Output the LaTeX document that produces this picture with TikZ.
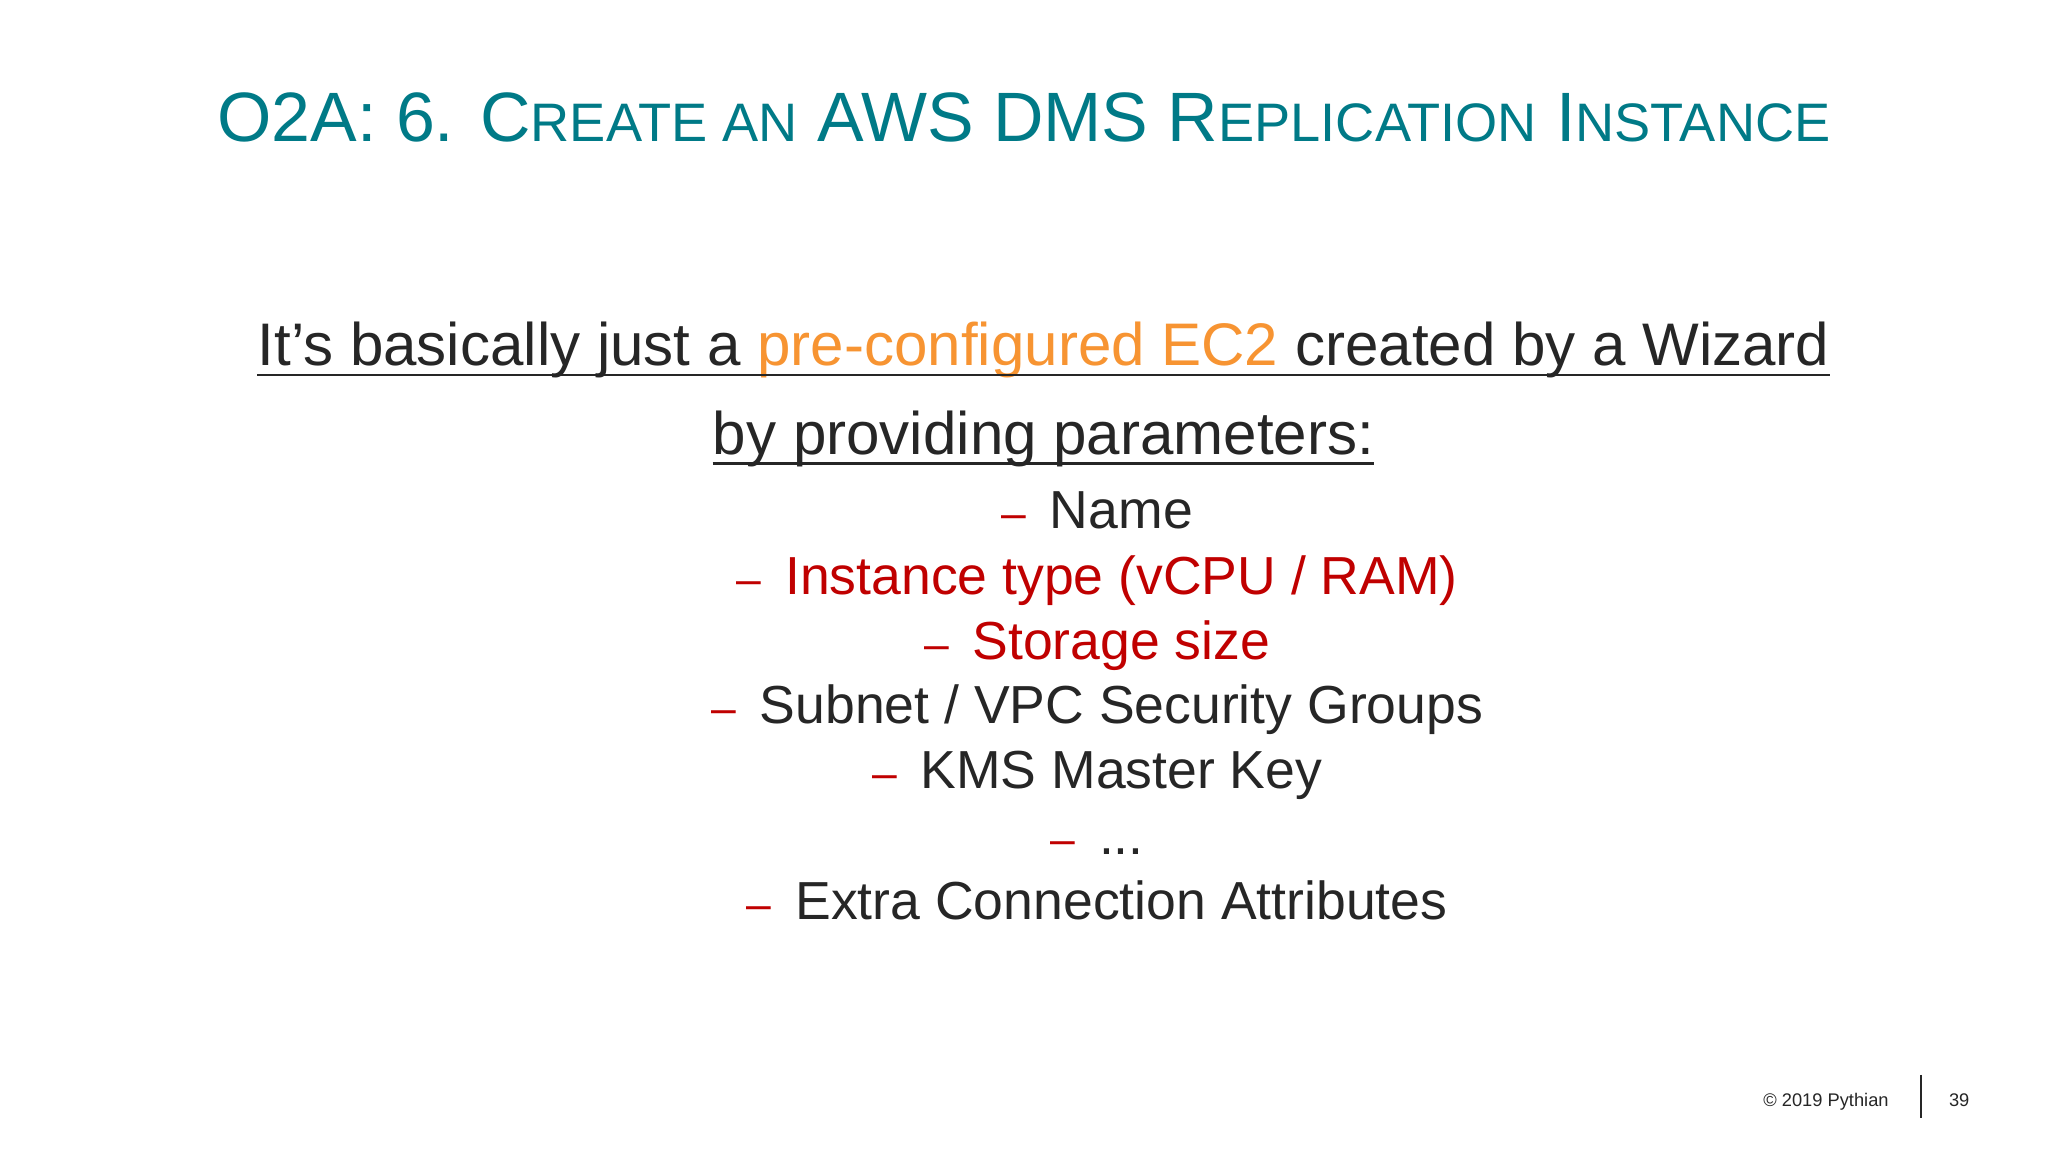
\documentclass[tikz,border=0pt]{standalone}
\usepackage{fontspec}
\setmainfont{Liberation Sans}
\definecolor{teal1}{RGB}{0,122,135}
\definecolor{red1}{RGB}{192,0,0}
\definecolor{orng}{RGB}{247,148,50}
\definecolor{txt}{RGB}{38,38,38}
\tikzset{item/.style={font=\fontsize{41}{44}\selectfont, text=txt, inner sep=0pt, anchor=base},
  ttl/.style={font=\fontsize{53.5}{60}\selectfont, text=teal1, inner sep=0pt, anchor=base},
  body/.style={font=\fontsize{46}{50}\selectfont, text=txt, inner sep=0pt, anchor=base},
  uline/.style={txt, line width=2pt}}
\newcommand{\smc}[1]{{\fontsize{41.5}{44}\selectfont #1}}
\newcommand{\dsh}{\textcolor{red1}{\fontsize{34}{34}\selectfont –}\ \,}
\begin{document}
\begin{tikzpicture}[x=1pt,y=-1pt]
\useasboundingbox[fill=white] (0,0) rectangle (1568,882);
\node[ttl] (title) at (784,108) {O2A: 6. C\smc{REATE AN} AWS DMS R\smc{EPLICATION} I\smc{NSTANCE}};
\node[body] (l1) at (799,280) {It’s basically just a \textcolor{orng}{pre-configured EC2} created by a Wizard};
\node[body] (l2) at (799,348) {by providing parameters:};
\draw[uline] ([yshift=-7pt]l1.base west) -- ([yshift=-7pt]l1.base east);
\draw[uline] ([yshift=-7pt]l2.base west) -- ([yshift=-7pt]l2.base east);
\node[item] (i1) at (840,405) {\dsh Name};
\node[item] (i2) at (840,455) {\dsh\textcolor{red1}{Instance type (vCPU / RAM)}};
\node[item] (i3) at (840,505) {\dsh\textcolor{red1}{Storage size}};
\node[item] (i4) at (840,554) {\dsh Subnet / VPC Security Groups};
\node[item] (i5) at (840,604) {\dsh KMS Master Key};
\node[item] (i6) at (840,654) {\dsh ...};
\node[item] (i7) at (840,704) {\dsh Extra Connection Attributes};
\node[font=\fontsize{14}{16}\selectfont, text=txt, inner sep=0pt, anchor=base] (copy) at (1398,847) {© 2019 Pythian};
\draw[txt, line width=1.5pt] (1471,823) -- (1471,856);
\node[font=\fontsize{14}{16}\selectfont, text=txt, inner sep=0pt, anchor=base] (pg) at (1500,847) {39};
\end{tikzpicture}
\end{document}
